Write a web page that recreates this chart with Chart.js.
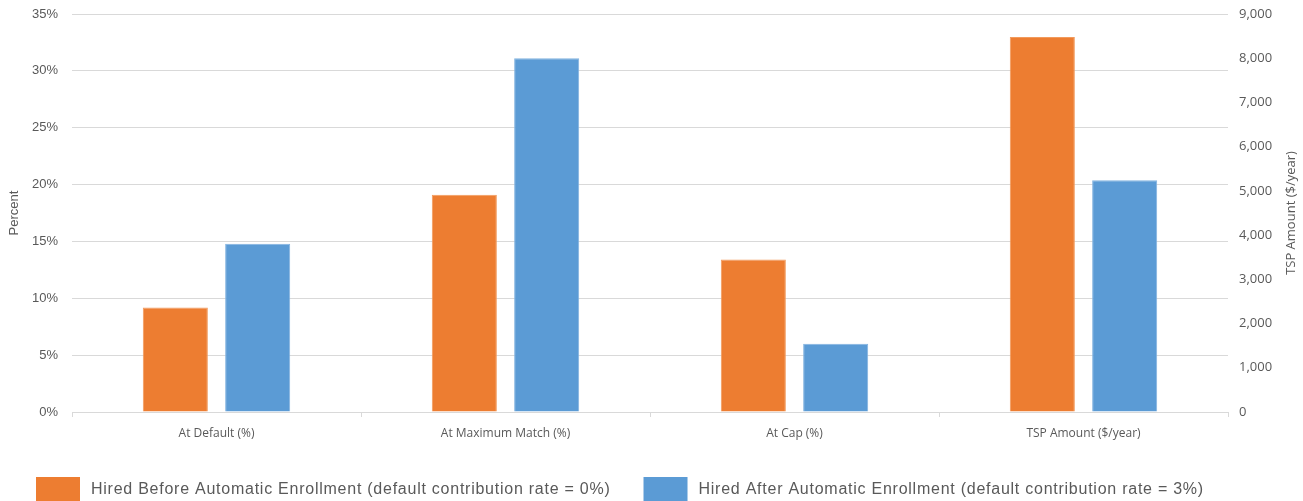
<!DOCTYPE html>
<html>
<head>
<meta charset="utf-8">
<title>TSP participation by hiring cohort</title>
<script src="https://cdn.jsdelivr.net/npm/chart.js@4"></script>
<style>
  html, body { margin: 0; padding: 0; background: #ffffff; }
  #wrap { position: relative; width: 1303px; height: 501px; }
</style>
</head>
<body>
<div id="wrap"><canvas id="chart"></canvas></div>
<script>
// Categories along the x axis
const categories = ['At Default (%)', 'At Maximum Match (%)', 'At Cap (%)', 'TSP Amount ($/year)'];

// Series names
const seriesNames = [
  'Hired Before Automatic Enrollment (default contribution rate = 0%)',
  'Hired After Automatic Enrollment (default contribution rate = 3%)'
];

// Percent measures (left axis); the dollar category is left empty here
const beforePercent = [9.2, 19.1, 13.4, null];
const afterPercent  = [14.8, 31.1, 6.0, null];

// Dollar amount (right axis); only the last category carries a value
const beforeAmount = [null, null, null, 8480];
const afterAmount  = [null, null, null, 5240];

// Axis ranges and steps
const percentTicks = { min: 0, max: 35, step: 5 };
const amountTicks  = { min: 0, max: 9000, step: 1000 };

const axisTitleLeft  = 'Percent';
const axisTitleRight = 'TSP Amount ($/year)';

const ORANGE = '#ED7D31';
const BLUE   = '#5B9BD5';
const TEXT   = '#595959';
const GRID   = '#d9d9d9';

// Right-hand axis title, reading bottom to top
const rightTitlePlugin = {
  id: 'rightTitle',
  afterDraw(chart) {
    const s = chart.scales.y2;
    const ctx = chart.ctx;
    ctx.save();
    ctx.fillStyle = TEXT;
    ctx.font = '13px "Open Sans"';
    ctx.textAlign = 'center';
    ctx.textBaseline = 'middle';
    ctx.translate(s.right - 12, (chart.chartArea.top + chart.chartArea.bottom) / 2);
    ctx.rotate(-Math.PI / 2);
    ctx.fillText(axisTitleRight, 0, 0);
    ctx.restore();
  }
};

// Legend drawn along the bottom edge with large swatches
const bottomLegendPlugin = {
  id: 'bottomLegend',
  afterDraw(chart) {
    const ctx = chart.ctx;
    const boxW = 44, boxH = 24, textGap = 11, itemGap = 33;
    const y = chart.height - boxH;
    let x = 36;
    ctx.save();
    ctx.font = '16px "Liberation Sans"';
    if ('letterSpacing' in ctx) ctx.letterSpacing = '0.75px';
    ctx.textBaseline = 'middle';
    ctx.textAlign = 'left';
    const colors = [ORANGE, BLUE];
    seriesNames.forEach((name, i) => {
      ctx.fillStyle = colors[i];
      ctx.fillRect(x, y, boxW, boxH);
      const tx = x + boxW + textGap;
      ctx.fillStyle = TEXT;
      ctx.fillText(name, tx, y + boxH / 2 + 1);
      x = tx + ctx.measureText(name).width + itemGap;
    });
    ctx.restore();
  }
};

const barCommon = {
  skipNull: true,
  categoryPercentage: 0.57,
  barPercentage: 0.79,
  borderWidth: 1
};

// Fixed axis widths; vertical label overhang is handled by the layout padding
function fixWidth(width) {
  return function (scale) {
    scale.width = width;
    scale.paddingTop = 0;
    scale.paddingBottom = 0;
  };
}

new Chart(document.getElementById('chart'), {
  type: 'bar',
  data: {
    labels: categories,
    datasets: [
      Object.assign({ label: seriesNames[0], data: beforePercent, yAxisID: 'y',
        backgroundColor: ORANGE, borderColor: '#F29A5C' }, barCommon),
      Object.assign({ label: seriesNames[1], data: afterPercent, yAxisID: 'y',
        backgroundColor: BLUE, borderColor: '#82B3E0' }, barCommon),
      Object.assign({ label: seriesNames[0], data: beforeAmount, yAxisID: 'y2',
        backgroundColor: ORANGE, borderColor: '#F29A5C' }, barCommon),
      Object.assign({ label: seriesNames[1], data: afterAmount, yAxisID: 'y2',
        backgroundColor: BLUE, borderColor: '#82B3E0' }, barCommon)
    ]
  },
  options: {
    responsive: true,
    maintainAspectRatio: false,
    animation: false,
    layout: { padding: { top: 14, left: 0, right: 0, bottom: 0 } },
    plugins: {
      legend: { display: false },
      tooltip: { enabled: false }
    },
    scales: {
      x: {
        offset: true,
        grid: { display: true, drawOnChartArea: false, drawTicks: true, tickLength: 5, color: GRID, offset: true },
        border: { display: true, color: GRID, width: 1 },
        ticks: { color: TEXT, font: { family: 'Open Sans', size: 12 }, padding: 9, maxRotation: 0 },
        afterFit(scale) { scale.height = 89; }
      },
      y: {
        position: 'left',
        min: percentTicks.min,
        max: percentTicks.max,
        ticks: {
          stepSize: percentTicks.step,
          color: TEXT,
          font: { family: 'Liberation Sans', size: 13 },
          padding: 14,
          callback: v => v + '%'
        },
        grid: { color: GRID, lineWidth: 1, drawTicks: false },
        border: { display: false },
        title: {
          display: true,
          text: axisTitleLeft,
          color: TEXT,
          font: { family: 'Liberation Sans', size: 13 },
          padding: { top: 7, bottom: 0 }
        },
        afterFit: fixWidth(72)
      },
      y2: {
        position: 'right',
        min: amountTicks.min,
        max: amountTicks.max,
        ticks: {
          stepSize: amountTicks.step,
          color: TEXT,
          font: { family: 'Open Sans', size: 13 },
          padding: 11,
          callback: v => v.toLocaleString('en-US')
        },
        grid: { drawOnChartArea: false, drawTicks: false },
        border: { display: false },
        afterFit: fixWidth(75)
      }
    }
  },
  plugins: [rightTitlePlugin, bottomLegendPlugin]
});
</script>
</body>
</html>
